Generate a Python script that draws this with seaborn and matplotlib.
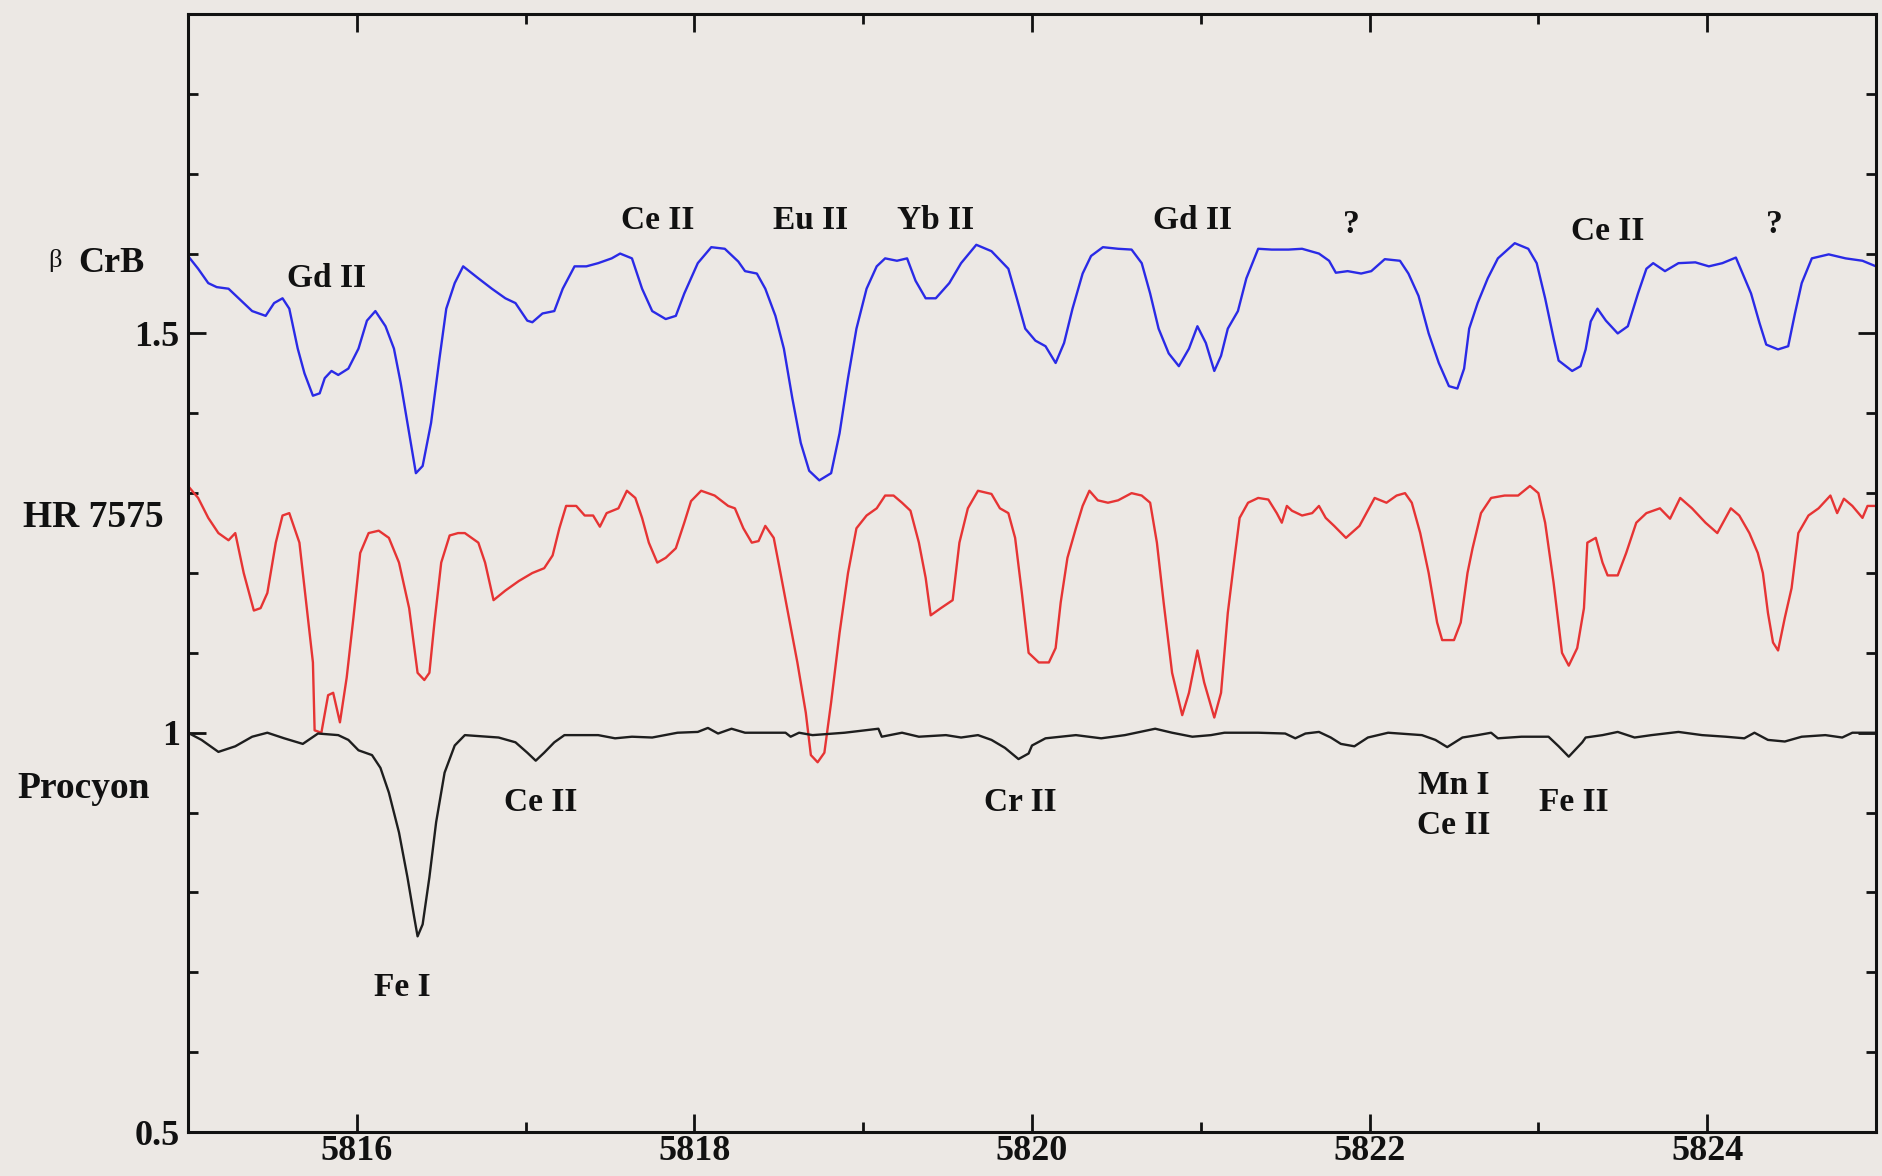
import matplotlib
matplotlib.use("Agg")
import matplotlib.pyplot as plt
from matplotlib.ticker import MultipleLocator, FixedLocator
import seaborn as sns
import pandas as pd

# ---------------- data ----------------
blue_wave = [5815.00, 5815.06, 5815.12, 5815.17, 5815.24, 5815.30, 5815.38, 5815.46, 5815.51, 5815.56,
             5815.60, 5815.65, 5815.69, 5815.74, 5815.78, 5815.81, 5815.85, 5815.89, 5815.95, 5816.01,
             5816.06, 5816.11, 5816.17, 5816.22, 5816.26, 5816.31, 5816.35, 5816.39, 5816.44, 5816.49,
             5816.53, 5816.58, 5816.63, 5816.72, 5816.80, 5816.88, 5816.94, 5817.01, 5817.04, 5817.10,
             5817.17, 5817.22, 5817.29, 5817.36, 5817.43, 5817.51, 5817.56, 5817.63, 5817.69, 5817.75,
             5817.83, 5817.89, 5817.94, 5818.02, 5818.10, 5818.18, 5818.26, 5818.30, 5818.37, 5818.42,
             5818.48, 5818.53, 5818.58, 5818.63, 5818.68, 5818.74, 5818.81, 5818.86, 5818.91, 5818.96,
             5819.02, 5819.08, 5819.13, 5819.20, 5819.26, 5819.31, 5819.37, 5819.43, 5819.51, 5819.58,
             5819.67, 5819.76, 5819.86, 5819.91, 5819.96, 5820.02, 5820.08, 5820.14, 5820.19, 5820.24,
             5820.30, 5820.35, 5820.42, 5820.51, 5820.59, 5820.65, 5820.70, 5820.75, 5820.81, 5820.87,
             5820.93, 5820.98, 5821.03, 5821.08, 5821.12, 5821.16, 5821.22, 5821.27, 5821.34, 5821.42,
             5821.52, 5821.60, 5821.70, 5821.76, 5821.80, 5821.87, 5821.95, 5822.01, 5822.09, 5822.18,
             5822.23, 5822.29, 5822.35, 5822.41, 5822.47, 5822.52, 5822.56, 5822.59, 5822.64, 5822.70,
             5822.76, 5822.86, 5822.94, 5822.99, 5823.04, 5823.09, 5823.12, 5823.20, 5823.25, 5823.28,
             5823.31, 5823.35, 5823.40, 5823.47, 5823.53, 5823.59, 5823.64, 5823.68, 5823.75, 5823.83,
             5823.93, 5824.01, 5824.09, 5824.17, 5824.21, 5824.26, 5824.31, 5824.35, 5824.42, 5824.48,
             5824.52, 5824.56, 5824.62, 5824.72, 5824.82, 5824.92, 5825.00]
blue_flux = [1.597, 1.581, 1.563, 1.558, 1.556, 1.544, 1.528, 1.522, 1.538, 1.544,
             1.531, 1.481, 1.450, 1.422, 1.425, 1.444, 1.453, 1.448, 1.456, 1.481,
             1.516, 1.528, 1.509, 1.481, 1.438, 1.375, 1.325, 1.334, 1.388, 1.469,
             1.531, 1.563, 1.584, 1.569, 1.556, 1.544, 1.538, 1.516, 1.514, 1.525,
             1.528, 1.556, 1.584, 1.584, 1.588, 1.594, 1.600, 1.594, 1.556, 1.528,
             1.518, 1.522, 1.550, 1.588, 1.608, 1.606, 1.590, 1.578, 1.575, 1.556,
             1.522, 1.481, 1.419, 1.363, 1.328, 1.316, 1.325, 1.375, 1.444, 1.506,
             1.556, 1.584, 1.594, 1.591, 1.594, 1.566, 1.544, 1.544, 1.563, 1.588,
             1.611, 1.603, 1.581, 1.544, 1.506, 1.491, 1.484, 1.463, 1.488, 1.531,
             1.575, 1.597, 1.608, 1.606, 1.605, 1.588, 1.550, 1.506, 1.475, 1.459,
             1.481, 1.509, 1.488, 1.453, 1.472, 1.506, 1.528, 1.569, 1.606, 1.605,
             1.605, 1.606, 1.600, 1.591, 1.576, 1.578, 1.575, 1.578, 1.593, 1.591,
             1.575, 1.547, 1.500, 1.463, 1.434, 1.431, 1.456, 1.506, 1.538, 1.569,
             1.594, 1.613, 1.606, 1.588, 1.544, 1.494, 1.466, 1.453, 1.459, 1.480,
             1.515, 1.531, 1.516, 1.500, 1.509, 1.550, 1.581, 1.588, 1.578, 1.588,
             1.589, 1.584, 1.588, 1.595, 1.575, 1.550, 1.513, 1.486, 1.480, 1.484,
             1.525, 1.563, 1.594, 1.599, 1.594, 1.591, 1.584]

red_wave = [5815.00, 5815.06, 5815.12, 5815.18, 5815.24, 5815.28, 5815.33, 5815.39, 5815.43, 5815.47,
            5815.52, 5815.56, 5815.60, 5815.66, 5815.70, 5815.74, 5815.75, 5815.79, 5815.83, 5815.86,
            5815.90, 5815.94, 5815.98, 5816.02, 5816.07, 5816.13, 5816.19, 5816.25, 5816.31, 5816.36,
            5816.40, 5816.43, 5816.46, 5816.50, 5816.55, 5816.60, 5816.64, 5816.72, 5816.76, 5816.81,
            5816.88, 5816.96, 5817.04, 5817.11, 5817.16, 5817.20, 5817.24, 5817.30, 5817.35, 5817.40,
            5817.44, 5817.48, 5817.55, 5817.60, 5817.65, 5817.69, 5817.73, 5817.78, 5817.83, 5817.89,
            5817.94, 5817.98, 5818.04, 5818.12, 5818.20, 5818.24, 5818.29, 5818.34, 5818.38, 5818.42,
            5818.47, 5818.51, 5818.56, 5818.61, 5818.66, 5818.69, 5818.73, 5818.77, 5818.81, 5818.86,
            5818.91, 5818.96, 5819.02, 5819.08, 5819.13, 5819.18, 5819.23, 5819.28, 5819.33, 5819.37,
            5819.40, 5819.46, 5819.53, 5819.57, 5819.62, 5819.68, 5819.76, 5819.81, 5819.86, 5819.90,
            5819.94, 5819.98, 5820.04, 5820.10, 5820.14, 5820.17, 5820.21, 5820.26, 5820.30, 5820.34,
            5820.39, 5820.45, 5820.51, 5820.59, 5820.65, 5820.70, 5820.74, 5820.78, 5820.83, 5820.89,
            5820.93, 5820.98, 5821.02, 5821.08, 5821.12, 5821.16, 5821.20, 5821.23, 5821.28, 5821.34,
            5821.40, 5821.45, 5821.48, 5821.51, 5821.54, 5821.60, 5821.66, 5821.70, 5821.74, 5821.79,
            5821.86, 5821.94, 5822.03, 5822.10, 5822.16, 5822.21, 5822.25, 5822.30, 5822.35, 5822.40,
            5822.43, 5822.50, 5822.54, 5822.58, 5822.61, 5822.66, 5822.72, 5822.80, 5822.88, 5822.95,
            5823.00, 5823.04, 5823.09, 5823.14, 5823.18, 5823.23, 5823.27, 5823.29, 5823.34, 5823.38,
            5823.41, 5823.47, 5823.52, 5823.58, 5823.64, 5823.72, 5823.78, 5823.84, 5823.91, 5823.99,
            5824.06, 5824.14, 5824.19, 5824.25, 5824.30, 5824.33, 5824.36, 5824.39, 5824.42, 5824.46,
            5824.50, 5824.54, 5824.60, 5824.66, 5824.73, 5824.77, 5824.81, 5824.86, 5824.92, 5824.95,
            5825.00]
red_flux = [1.309, 1.294, 1.269, 1.250, 1.241, 1.250, 1.200, 1.153, 1.156, 1.175,
            1.238, 1.272, 1.275, 1.238, 1.163, 1.088, 1.003, 1.000, 1.047, 1.050,
            1.013, 1.069, 1.144, 1.225, 1.250, 1.253, 1.244, 1.213, 1.156, 1.075,
            1.066, 1.075, 1.138, 1.213, 1.247, 1.250, 1.250, 1.238, 1.213, 1.166,
            1.178, 1.190, 1.200, 1.206, 1.222, 1.256, 1.284, 1.284, 1.272, 1.272,
            1.258, 1.275, 1.281, 1.303, 1.294, 1.269, 1.238, 1.213, 1.219, 1.231,
            1.263, 1.290, 1.303, 1.297, 1.284, 1.281, 1.256, 1.238, 1.240, 1.259,
            1.244, 1.200, 1.144, 1.088, 1.025, 0.972, 0.963, 0.975, 1.038, 1.125,
            1.200, 1.256, 1.272, 1.281, 1.297, 1.297, 1.288, 1.278, 1.238, 1.194,
            1.147, 1.156, 1.166, 1.238, 1.281, 1.303, 1.299, 1.281, 1.275, 1.244,
            1.175, 1.100, 1.088, 1.088, 1.106, 1.163, 1.219, 1.256, 1.284, 1.303,
            1.291, 1.288, 1.291, 1.300, 1.297, 1.288, 1.238, 1.163, 1.075, 1.022,
            1.050, 1.103, 1.063, 1.019, 1.050, 1.150, 1.219, 1.269, 1.288, 1.294,
            1.292, 1.275, 1.263, 1.284, 1.278, 1.272, 1.275, 1.284, 1.269, 1.259,
            1.244, 1.259, 1.294, 1.288, 1.297, 1.300, 1.288, 1.250, 1.200, 1.138,
            1.116, 1.116, 1.138, 1.200, 1.231, 1.275, 1.294, 1.297, 1.297, 1.309,
            1.300, 1.263, 1.188, 1.100, 1.084, 1.106, 1.156, 1.238, 1.244, 1.213,
            1.197, 1.197, 1.225, 1.263, 1.275, 1.281, 1.268, 1.294, 1.281, 1.263,
            1.250, 1.281, 1.272, 1.250, 1.225, 1.200, 1.150, 1.113, 1.103, 1.144,
            1.181, 1.250, 1.272, 1.281, 1.297, 1.275, 1.293, 1.284, 1.269, 1.284,
            1.284]

black_wave = [5815.00, 5815.08, 5815.18, 5815.28, 5815.38, 5815.47, 5815.57, 5815.68, 5815.77, 5815.89,
              5815.95, 5816.01, 5816.09, 5816.14, 5816.19, 5816.25, 5816.30, 5816.34, 5816.36, 5816.39,
              5816.43, 5816.47, 5816.52, 5816.58, 5816.64, 5816.84, 5816.94, 5817.01, 5817.06, 5817.11,
              5817.17, 5817.23, 5817.43, 5817.53, 5817.63, 5817.75, 5817.90, 5818.02, 5818.08, 5818.14,
              5818.22, 5818.30, 5818.54, 5818.57, 5818.62, 5818.70, 5818.89, 5819.09, 5819.11, 5819.23,
              5819.33, 5819.49, 5819.58, 5819.68, 5819.76, 5819.84, 5819.92, 5819.98, 5820.00, 5820.08,
              5820.26, 5820.41, 5820.55, 5820.73, 5820.83, 5820.95, 5821.06, 5821.14, 5821.34, 5821.50,
              5821.56, 5821.62, 5821.70, 5821.77, 5821.83, 5821.91, 5821.99, 5822.11, 5822.31, 5822.39,
              5822.46, 5822.55, 5822.64, 5822.72, 5822.76, 5822.90, 5823.06, 5823.12, 5823.18, 5823.26,
              5823.28, 5823.38, 5823.47, 5823.57, 5823.67, 5823.83, 5823.97, 5824.11, 5824.22, 5824.28,
              5824.36, 5824.46, 5824.56, 5824.70, 5824.80, 5824.86, 5825.00]
black_flux = [1.000, 0.991, 0.976, 0.983, 0.995, 1.000, 0.993, 0.986, 0.999, 0.997,
              0.991, 0.978, 0.972, 0.956, 0.925, 0.875, 0.819, 0.769, 0.745, 0.760,
              0.819, 0.888, 0.950, 0.984, 0.997, 0.994, 0.988, 0.975, 0.965, 0.975,
              0.988, 0.997, 0.997, 0.993, 0.995, 0.994, 1.000, 1.001, 1.006, 0.999,
              1.005, 1.000, 1.000, 0.995, 1.000, 0.997, 1.000, 1.005, 0.995, 1.000,
              0.995, 0.997, 0.994, 0.997, 0.991, 0.981, 0.967, 0.974, 0.984, 0.993,
              0.997, 0.993, 0.997, 1.005, 1.000, 0.995, 0.997, 1.000, 1.000, 0.999,
              0.993, 0.999, 1.001, 0.994, 0.986, 0.983, 0.994, 1.000, 0.997, 0.991,
              0.982, 0.994, 0.997, 1.000, 0.993, 0.995, 0.995, 0.983, 0.970, 0.988,
              0.994, 0.997, 1.001, 0.994, 0.997, 1.001, 0.997, 0.995, 0.993, 1.000,
              0.991, 0.989, 0.995, 0.997, 0.994, 1.000, 1.000]

star_names = ["β CrB", "HR 7575", "Procyon"]
line_labels = ["Gd II", "Ce II", "Eu II", "Yb II", "Gd II", "?", "Ce II", "?",
               "Ce II", "Cr II", "Mn I", "Ce II", "Fe II", "Fe I"]
label_wave = [5815.82, 5817.78, 5818.69, 5819.43, 5820.95, 5821.89, 5823.41, 5824.40,
              5817.09, 5819.93, 5822.50, 5822.50, 5823.21, 5816.27]
label_flux = [1.569, 1.642, 1.642, 1.642, 1.642, 1.636, 1.628, 1.636,
              0.912, 0.912, 0.934, 0.884, 0.912, 0.681]

x_major = [5816, 5818, 5820, 5822, 5824]
y_major = [0.5, 1.0, 1.5]
y_major_labels = ["0.5", "1", "1.5"]

# ---------------- style ----------------
BG = "#ECE8E4"
sns.set_theme(style="ticks")
plt.rcParams["font.family"] = ["Liberation Serif", "DejaVu Serif"]
plt.rcParams["font.weight"] = "bold"

fig = plt.figure(figsize=(18.82, 11.76), dpi=100, facecolor=BG)
ax = fig.add_axes([0.0999, 0.0374, 0.8969, 0.9507])
ax.set_facecolor(BG)

series = [
    (blue_wave, blue_flux, "#2a2ae6"),
    (red_wave, red_flux, "#e63434"),
    (black_wave, black_flux, "#1e1e1e"),
]
for w, f, c in series:
    df = pd.DataFrame({"wave": w, "flux": f})
    sns.lineplot(data=df, x="wave", y="flux", color=c, linewidth=1.7,
                 sort=False, estimator=None, ax=ax)

ax.set_xlim(5815, 5825)
ax.set_ylim(0.5, 1.9)
ax.set_xlabel("")
ax.set_ylabel("")

ax.xaxis.set_major_locator(FixedLocator(x_major))
ax.xaxis.set_minor_locator(MultipleLocator(1))
ax.set_xticklabels([str(v) for v in x_major])
ax.yaxis.set_major_locator(FixedLocator(y_major))
ax.yaxis.set_minor_locator(MultipleLocator(0.1))
ax.set_yticklabels(y_major_labels)

ax.tick_params(axis="both", which="both", direction="in", top=True, right=True,
               color="#111111", labelsize=26, labelcolor="#111111")
ax.tick_params(axis="both", which="major", length=13, width=2)
ax.tick_params(axis="both", which="minor", length=7, width=2)
ax.tick_params(axis="x", which="major", pad=2)
ax.tick_params(axis="y", which="major", pad=6)
for lab in ax.get_xticklabels() + ax.get_yticklabels():
    lab.set_fontweight("bold")

for sp in ax.spines.values():
    sp.set_visible(True)
    sp.set_color("#111111")
    sp.set_linewidth(2.2)

# star names (outside the axes on the left)
ax.text(5814.21, 1.591, "β", fontsize=19, fontweight="normal", ha="center", va="center",
        clip_on=False, color="#111111")
ax.text(5814.35, 1.5875, "CrB", fontsize=26, fontweight="bold", ha="left", va="center",
        clip_on=False, color="#111111")
ax.text(5814.02, 1.27, star_names[1], fontsize=27, fontweight="bold", ha="left", va="center",
        clip_on=False, color="#111111")
ax.text(5813.99, 0.93, star_names[2], fontsize=27, fontweight="bold", ha="left", va="center",
        clip_on=False, color="#111111")

for t, x, y in zip(line_labels, label_wave, label_flux):
    ax.text(x, y, t, fontsize=24, fontweight="bold", ha="center", va="center", color="#111111")

fig.savefig("out.png", dpi=100, facecolor=BG)
